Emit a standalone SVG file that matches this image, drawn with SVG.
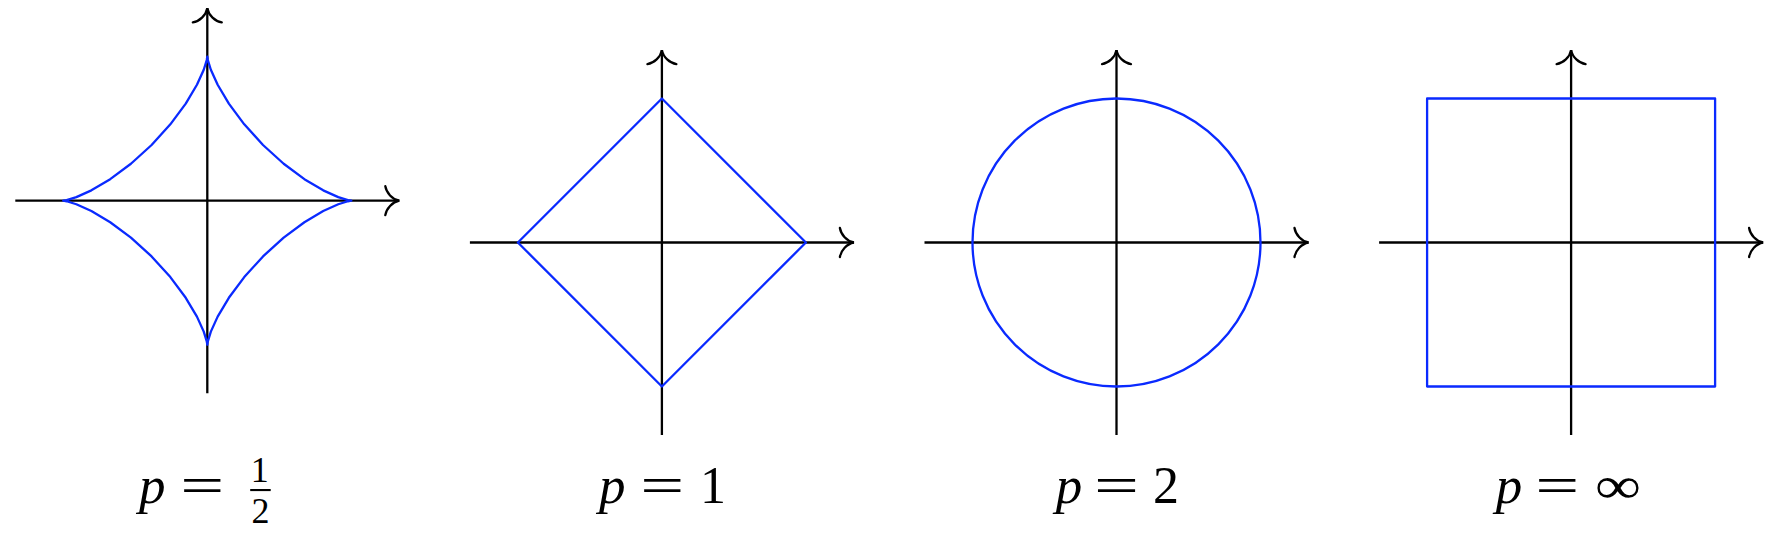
<svg xmlns="http://www.w3.org/2000/svg" width="1774" height="546" viewBox="0 0 1774 546">
<style>
.ax{stroke:#000;stroke-width:2.3;fill:none;marker-end:url(#to)}
.cv{stroke:#0a2aff;stroke-width:2.3;fill:none;stroke-linejoin:round}
.it{font-family:"Liberation Serif",serif;font-style:italic;font-size:53px;fill:#000}
.rm{font-family:"Liberation Serif",serif;font-size:52px;fill:#000}
.sm{font-family:"Liberation Serif",serif;font-size:36px;fill:#000}
</style>
<defs>
<marker id="to" markerUnits="userSpaceOnUse" markerWidth="40" markerHeight="40" refX="0" refY="0" orient="auto" overflow="visible">
<path d="M-14,-14.5 C-13,-8 -7,-1.2 0,0 C-7,1.2 -13,8 -14,14.5" fill="none" stroke="#000" stroke-width="2.3" stroke-linecap="round"/>
</marker>
</defs>
<g id="connectors">
<line class="ax" x1="15.3" y1="200.7" x2="399.3" y2="200.7"/>
<line class="ax" x1="207.3" y1="393.2" x2="207.3" y2="8.3"/>
<line class="ax" x1="469.9" y1="242.5" x2="853.9" y2="242.5"/>
<line class="ax" x1="661.9" y1="435" x2="661.9" y2="50.1"/>
<line class="ax" x1="924.5" y1="242.5" x2="1308.5" y2="242.5"/>
<line class="ax" x1="1116.5" y1="435" x2="1116.5" y2="50.1"/>
<line class="ax" x1="1379.1" y1="242.5" x2="1763.1" y2="242.5"/>
<line class="ax" x1="1571.1" y1="435" x2="1571.1" y2="50.1"/>
</g>
<g id="p-half">
<path class="cv" d="M351.3,200.7 L347.95,200.16 L338.25,197.15 L323.22,190.34 L304.39,179.14 L283.67,163.74 L263.01,144.99 L244.26,124.33 L228.86,103.61 L217.66,84.78 L210.85,69.75 L207.84,60.05 L207.3,56.7 L206.76,60.05 L203.75,69.75 L196.94,84.78 L185.74,103.61 L170.34,124.33 L151.59,144.99 L130.93,163.74 L110.21,179.14 L91.38,190.34 L76.35,197.15 L66.65,200.16 L63.3,200.7 L66.65,201.24 L76.35,204.25 L91.38,211.06 L110.21,222.26 L130.93,237.66 L151.59,256.41 L170.34,277.07 L185.74,297.79 L196.94,316.62 L203.75,331.65 L206.76,341.35 L207.3,344.7 L207.84,341.35 L210.85,331.65 L217.66,316.62 L228.86,297.79 L244.26,277.07 L263.01,256.41 L283.67,237.66 L304.39,222.26 L323.22,211.06 L338.25,204.25 L347.95,201.24 Z"/>
<text class="it" x="139" y="503">p</text>
<text class="rm" x="180.3" y="503" textLength="44" lengthAdjust="spacingAndGlyphs">=</text>
<text class="sm" x="259.8" y="481.7" text-anchor="middle">1</text>
<rect x="250.2" y="489" width="20.5" height="2.1" fill="#000"/>
<text class="sm" x="260.5" y="523.3" text-anchor="middle">2</text>
</g>
<g id="p-one">
<path class="cv" d="M805.9,242.5 L661.9,98.5 L517.9,242.5 L661.9,386.5 Z"/>
<text class="it" x="599" y="503">p</text>
<text class="rm" x="640.3" y="503" textLength="44" lengthAdjust="spacingAndGlyphs">=</text>
<text class="rm" x="713" y="503" text-anchor="middle">1</text>
</g>
<g id="p-two">
<circle class="cv" cx="1116.5" cy="242.5" r="144"/>
<text class="it" x="1055.7" y="503">p</text>
<text class="rm" x="1094" y="503" textLength="45" lengthAdjust="spacingAndGlyphs">=</text>
<text class="rm" x="1166" y="503" text-anchor="middle">2</text>
</g>
<g id="p-inf">
<rect class="cv" x="1427.1" y="98.5" width="288" height="288"/>
<text class="it" x="1495.7" y="503">p</text>
<text class="rm" x="1535.3" y="503" textLength="44" lengthAdjust="spacingAndGlyphs">=</text>
<text class="rm" x="1595" y="503" textLength="46" lengthAdjust="spacingAndGlyphs">∞</text>
</g>
</svg>
